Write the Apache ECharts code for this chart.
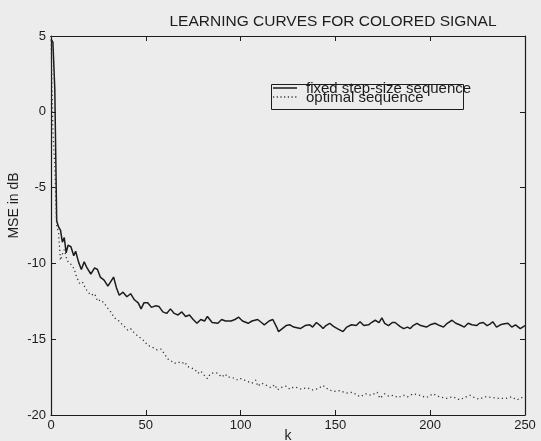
<!DOCTYPE html>
<html>
<head>
<meta charset="utf-8">
<script src="https://cdn.jsdelivr.net/npm/echarts@6/dist/echarts.min.js"></script>
<style>
html,body{margin:0;padding:0;background:#ececec;}
#chart{width:541px;height:441px;}
</style>
</head>
<body>
<div id="chart"></div>
<script>
var titleText = 'LEARNING CURVES FOR COLORED SIGNAL';
var xName = 'k';
var yName = 'MSE in dB';
var seriesNames = ['fixed step-size sequence', 'optimal sequence'];
var xTicks = [0, 50, 100, 150, 200, 250];
var yTicks = [-20, -15, -10, -5, 0, 5];

var fixedK = [0,1,2,3,4,5,6,7,8,9,10.5,12,13,14.5,16,17.5,19,21,23,24.5,26,28,30,31,33,34.5,36,38,40,42,44,46,47.5,49,51,53,55,57,59,61,63,65,67,69,71,73,75,77,79,81,82.5,85,88,90,92,95,97,99,101,104,106,109,111,112.5,115,117,119,120,122,124,126,128,131.5,134,136.5,138,140,142,143.5,145,147,149,151,154,156,158.5,161,163,165,167.5,169,171,173,174.5,176,178,180,181.5,184,186,188,189.5,191,193,195,198,200,202.5,205,207,209,211.5,213.5,215.5,218,220,222,224.5,226,228,230,231.5,233,235,237,238.5,241,243,245,247.5,250];
var fixedMSE = [4.8,4.6,1.5,-7.2,-7.6,-7.8,-8.6,-8.3,-9.3,-8.8,-8.9,-9.5,-9.2,-9.9,-10.4,-9.9,-10.3,-10.7,-10.3,-10.4,-10.9,-11.1,-11.5,-11.3,-10.9,-11.6,-12.1,-11.9,-12.2,-12.0,-12.4,-12.6,-13.0,-12.6,-12.6,-12.9,-12.8,-12.85,-13.2,-13.3,-13.0,-13.3,-13.4,-13.2,-13.5,-13.4,-13.7,-13.95,-13.7,-13.8,-13.5,-13.9,-13.95,-13.7,-13.8,-13.8,-13.7,-13.55,-13.8,-13.95,-13.8,-13.7,-13.9,-14.05,-13.8,-13.7,-14.2,-14.5,-14.3,-14.1,-14.05,-14.2,-14.3,-14.1,-14.05,-14.2,-13.9,-14.1,-14.3,-14.1,-13.95,-14.15,-14.3,-14.5,-14.2,-14.05,-14.1,-13.85,-14.1,-14.05,-13.9,-13.75,-13.9,-13.6,-13.95,-14.1,-13.9,-13.9,-14.15,-14.3,-14.2,-14.3,-14.1,-13.95,-14.1,-14.2,-14.05,-13.95,-14.1,-14.2,-13.95,-13.75,-13.95,-14.05,-14.2,-13.95,-14.05,-14.1,-13.95,-13.9,-14.1,-14.0,-13.85,-14.2,-14.05,-14.0,-13.95,-14.2,-14.05,-14.3,-14.1];

var optK = [0,1,2,3,4,5,6,7,8.5,9.7,11,12.3,13.5,15,16.5,17.6,19,21,23,24.6,26,28,29.5,31,32,33.5,35,37,39,40.5,42,44,46,47.5,49,51,53,54.5,56,58,60,61.5,63,65,67,69,70.5,72,74,76,77.5,79,81,82.5,84,86,88,90,92,93,95,97,98.5,100,102,104,106,108,109,111,113,114,116,118,119.5,121,124,126,128,130,132,135,138,141,143.5,146,149,152,156,159,163,166,169,172,173.5,176,178,180.5,183,186,188,191,194.5,198,201.5,205,208.5,212,215.5,218,221,224,226,229,233,236,240,243,245.5,248,249.5];
var optMSE = [5,-1.3,-3.6,-7.5,-8.0,-9.8,-9.4,-9.1,-9.8,-10.0,-10.1,-10.4,-10.9,-11.3,-11.2,-11.5,-11.8,-12.1,-12.0,-12.5,-12.4,-12.6,-12.9,-13.1,-13.0,-13.6,-13.7,-13.95,-14.2,-14.4,-14.3,-14.6,-14.8,-14.95,-15.1,-15.4,-15.5,-15.6,-15.7,-15.65,-16.0,-16.3,-16.4,-16.6,-16.5,-16.6,-16.5,-16.8,-16.9,-17.0,-17.25,-17.1,-17.4,-17.6,-17.3,-17.2,-17.25,-17.5,-17.3,-17.5,-17.5,-17.6,-17.7,-17.6,-17.7,-17.8,-17.9,-17.7,-18.1,-17.9,-18.0,-18.1,-18.2,-18.0,-18.35,-18.2,-18.1,-18.3,-18.15,-18.2,-18.3,-18.2,-18.35,-18.25,-18.05,-18.3,-18.45,-18.4,-18.55,-18.5,-18.8,-18.6,-18.7,-18.5,-18.9,-18.6,-18.75,-18.7,-18.85,-18.7,-18.8,-18.6,-18.7,-18.85,-18.6,-18.8,-18.9,-18.8,-19.0,-18.85,-18.7,-18.9,-18.95,-18.8,-18.85,-18.9,-18.9,-18.8,-19.0,-18.9,-18.7];

function pairs(ks, vs){ return ks.map(function(k,i){ return [k, vs[i]]; }); }

var ink = '#1c1c1c';
var font = 'Liberation Sans, Arial, Helvetica, sans-serif';
var chart = echarts.init(document.getElementById('chart'), null, {renderer:'canvas'});

var axisCommon = {
  axisLine: {show:true, onZero:false, lineStyle:{color:ink, width:1.2}},
  axisTick: {show:true, inside:true, length:5, lineStyle:{color:ink, width:1}},
  splitLine: {show:false}
};

chart.setOption({
  backgroundColor: '#ececec',
  animation: false,
  title: {
    text: titleText,
    left: 333, top: 14, textAlign: 'center', padding: 0,
    textStyle: {fontFamily: font, fontSize: 15.5, fontWeight: 'normal', color: ink}
  },
  grid: {left: 51, right: 16, top: 36, bottom: 26, containLabel: false, outerBoundsMode: 'none'},
  legend: {
    orient: 'vertical', left: 277, top: 81, padding: 0,
    itemGap: -6, itemWidth: 24, itemHeight: 10, icon: 'none',
    textStyle: {fontFamily: font, fontSize: 15, color: ink, padding:[0,0,0,0]},
    data: seriesNames
  },
  graphic: [
    {type: 'rect', left: 269, top: 82, shape: {width: 192, height: 25},
     style: {fill: 'none', stroke: ink, lineWidth: 1}, z: 100},
    {type: 'line', shape: {x1: 273, y1: 88, x2: 297, y2: 88},
     style: {stroke: ink, lineWidth: 1.5}, z: 100},
    {type: 'line', shape: {x1: 273, y1: 97, x2: 297, y2: 97},
     style: {stroke: '#333', lineWidth: 1.3, lineDash: [1.2, 2.5]}, z: 100}
  ],
  xAxis: [
    Object.assign({type:'value', min:0, max:250, interval:50, position:'bottom',
      name: xName, nameLocation:'middle', nameGap: 14, nameMoveOverlap: false,
      nameTextStyle:{fontFamily:font, fontSize:14, color:ink},
      axisLabel:{show:true, margin:4, fontFamily:font, fontSize:13, color:ink}
    }, axisCommon),
    Object.assign({type:'value', min:0, max:250, interval:50, position:'top',
      axisLabel:{show:false}}, axisCommon)
  ],
  yAxis: [
    Object.assign({type:'value', min:-20, max:5, interval:5, position:'left',
      name: yName, nameLocation:'middle', nameGap: 30, nameRotate: 90, nameMoveOverlap: false,
      nameTextStyle:{fontFamily:font, fontSize:14, color:ink, padding:[0,0,0,40]},
      axisLabel:{show:true, margin:5, fontFamily:font, fontSize:13, color:ink}
    }, axisCommon),
    Object.assign({type:'value', min:-20, max:5, interval:5, position:'right',
      axisLabel:{show:false}}, axisCommon)
  ],
  series: [
    {
      name: seriesNames[0], type:'line', data: pairs(fixedK, fixedMSE),
      symbol:'none', showSymbol:false, clip:true,
      lineStyle:{color:ink, width:1.5, type:'solid'},
      itemStyle:{color:ink}
    },
    {
      name: seriesNames[1], type:'line', data: pairs(optK, optMSE),
      symbol:'none', showSymbol:false, clip:true,
      lineStyle:{color:'#333', width:1.3, type:[1.2,3]},
      itemStyle:{color:'#333'}
    }
  ]
});
</script>
</body>
</html>
